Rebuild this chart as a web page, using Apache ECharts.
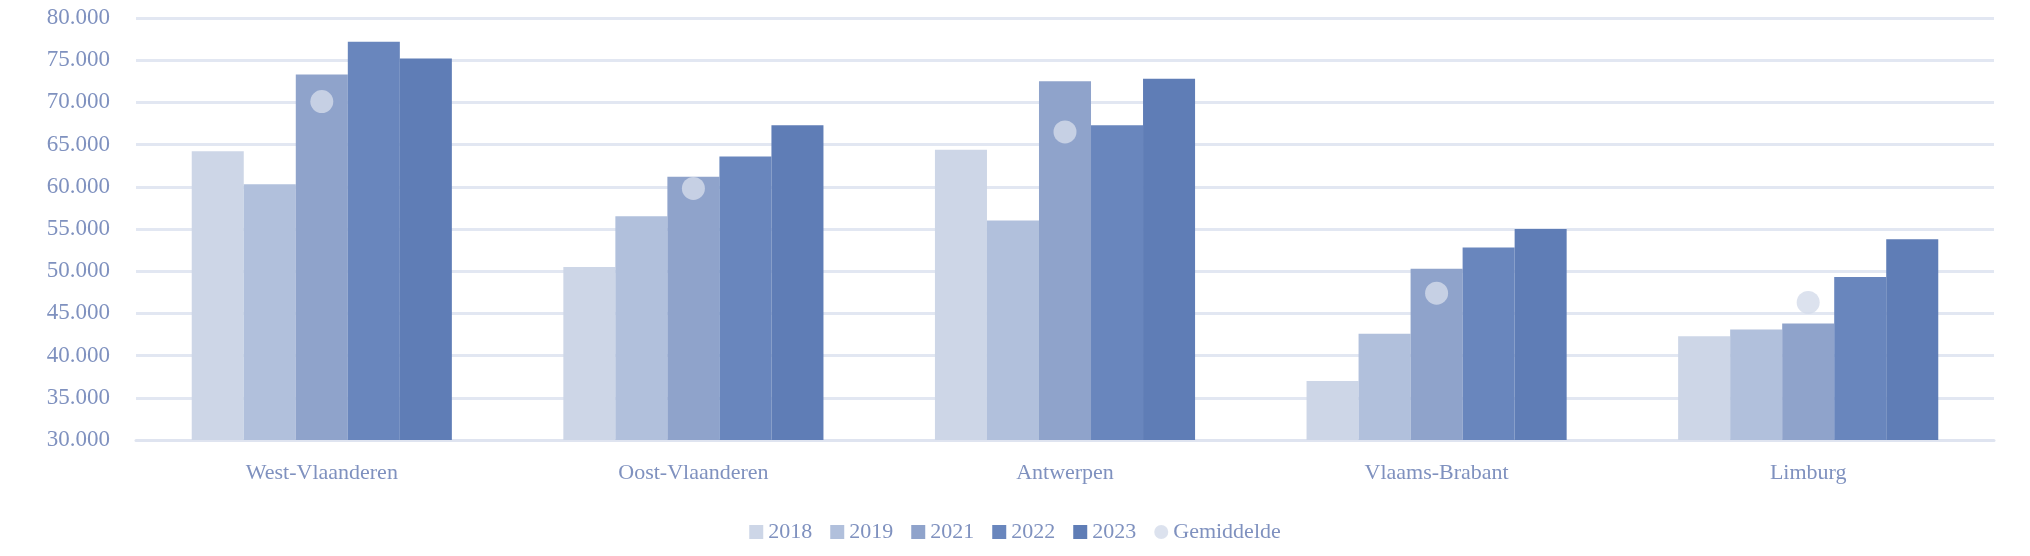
<!DOCTYPE html>
<html><head><meta charset="utf-8">
<script src="https://cdn.jsdelivr.net/npm/echarts@6/dist/echarts.min.js"></script>
<style>html,body{margin:0;padding:0;background:#fff}#c{width:2030px;height:556px}</style>
</head><body><div id="c"></div>
<script>
const categories = ['West-Vlaanderen','Oost-Vlaanderen','Antwerpen','Vlaams-Brabant','Limburg'];
const years = ['2018','2019','2021','2022','2023'];
const v2018 = [64200, 50500, 64400, 37000, 42300];
const v2019 = [60300, 56500, 56000, 42600, 43100];
const v2021 = [73300, 61200, 72500, 50300, 43800];
const v2022 = [77200, 63600, 67300, 52800, 49300];
const v2023 = [75200, 67300, 72800, 55000, 53800];
const gemiddelde = [70100, 59800, 66500, 47400, 46300];
const colors = ['#cdd6e7','#b1c0dc','#8fa3cb','#6986bd','#5f7db6'];
const txt = '#7f91bf';
const font = 'Liberation Serif';
const fmt = v => { const s = String(Math.round(v)); return s.replace(/\B(?=(\d{3})+(?!\d))/g,'.'); };
const vals = [v2018,v2019,v2021,v2022,v2023];
const series = years.map((y,i)=>({name:y,type:'bar',data:vals[i],barGap:'0%',barCategoryGap:'30%',itemStyle:{color:colors[i]}}));
series.push({name:'Gemiddelde',type:'scatter',data:gemiddelde,symbolSize:23,itemStyle:{color:'#d3dbea'},z:5});
const chart = echarts.init(document.getElementById('c'));
chart.setOption({
  animation:false,
  textStyle:{fontFamily:font},
  grid:{left:136,right:36,top:18,bottom:116},
  legend:{bottom:8,left:'center',itemWidth:14,itemHeight:14,itemGap:18,
    textStyle:{color:txt,fontSize:22,fontFamily:font},
    data:[...years.map(y=>({name:y,icon:'rect'})),{name:'Gemiddelde',icon:'circle'}]},
  xAxis:{type:'category',data:categories,axisLine:{show:true,lineStyle:{color:'#dfe4f0',width:3}},axisTick:{show:false},
    axisLabel:{color:txt,fontSize:22,margin:22,fontFamily:font}},
  yAxis:{type:'value',min:30000,max:80000,interval:5000,axisLine:{show:false},axisTick:{show:false},
    splitLine:{lineStyle:{color:'#e2e7f2',width:3}},
    axisLabel:{color:txt,fontSize:23,margin:26,formatter:fmt,fontFamily:font}},
  series
});
</script></body></html>
